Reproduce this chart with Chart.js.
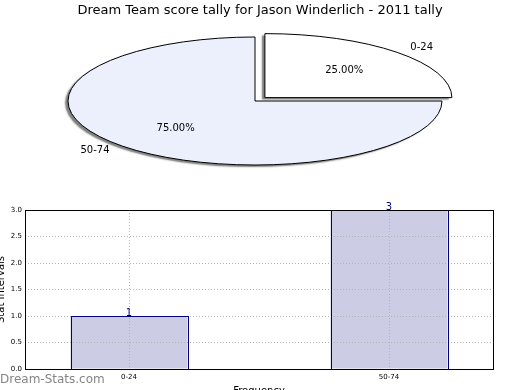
<!DOCTYPE html>
<html>
<head>
<meta charset="utf-8">
<script src="https://cdn.jsdelivr.net/npm/chart.js@4.4.0/dist/chart.umd.min.js"></script>
<style>
    html, body { margin: 0; padding: 0; background: #fff; overflow: hidden; width: 520px; height: 390px; }
    #pie { position: absolute; left: 0; top: 0; }
    #bar { position: absolute; left: -6px; top: 195px; }
    #mark { position: absolute; left: 0; top: 372px; font: 12px "DejaVu Sans"; color: #858585; }
</style>
</head>
<body>
<canvas id="pie" width="520" height="200"></canvas>
<canvas id="bar" width="526" height="215"></canvas>
<div id="mark">Dream-Stats.com</div>
<script>
const chartTitle = 'Dream Team score tally for Jason Winderlich - 2011 tally';
const categories = ['0-24', '50-74'];
const counts = [1, 3];
const percentLabels = ['25.00%', '75.00%'];
const yTicks = [0, 0.5, 1, 1.5, 2, 2.5, 3];

Chart.defaults.font.family = 'DejaVu Sans';
Chart.defaults.color = '#000';

// pie is drawn as a circle and squashed into an ellipse
const squash = 64 / 187;

function squashAround(ctx, y) {
    ctx.translate(0, y);
    ctx.scale(1, squash);
    ctx.translate(0, -y);
}

function sliceGeom(arc) {
    const off = (arc.options.offset || 0) / 4;
    const mid = (arc.startAngle + arc.endAngle) / 2;
    const fix = 1 - Math.sin(Math.min(Math.PI, arc.endAngle - arc.startAngle));
    return {
        cx: arc.x + Math.cos(mid) * off,
        cy: arc.y + Math.sin(mid) * off,
        r: arc.outerRadius + off * fix,
        mid: mid
    };
}

const ellipsePlugin = {
    id: 'ellipse',
    beforeDatasetsDraw(chart) {
        const arc = chart.getDatasetMeta(0).data[0];
        const ctx = chart.ctx;
        ctx.save();
        squashAround(ctx, arc.y);
        ctx.shadowColor = 'rgba(0,0,0,0.5)';
        ctx.shadowOffsetX = -3;
        ctx.shadowOffsetY = 2;
        ctx.shadowBlur = 1.5;
    },
    afterDatasetsDraw(chart) {
        const ctx = chart.ctx;
        ctx.restore();
        const meta = chart.getDatasetMeta(0);
        meta.data.forEach((arc, i) => {
            const g = sliceGeom(arc);
            // outline, stroked without the squash so the line stays 1px
            ctx.save();
            squashAround(ctx, arc.y);
            ctx.beginPath();
            ctx.moveTo(g.cx, g.cy);
            ctx.arc(g.cx, g.cy, g.r, arc.startAngle, arc.endAngle);
            ctx.closePath();
            ctx.restore();
            ctx.strokeStyle = '#000';
            ctx.lineWidth = 1;
            ctx.stroke();

            // labels
            const cos = Math.cos(g.mid), sin = Math.sin(g.mid);
            const at = k => [g.cx + cos * g.r * k, arc.y + (g.cy + sin * g.r * k - arc.y) * squash];
            ctx.save();
            ctx.fillStyle = '#000';
            ctx.font = '10px "DejaVu Sans"';
            ctx.textBaseline = 'middle';
            let p = at(1.1);
            ctx.textAlign = cos >= 0 ? 'left' : 'right';
            ctx.fillText(categories[i], p[0], p[1]);
            p = at(0.6);
            ctx.textAlign = 'center';
            ctx.fillText(percentLabels[i], p[0], p[1]);
            ctx.restore();
        });
    },
    afterDraw(chart) {
        // title centred on the whole canvas, not on the padded pie area
        const ctx = chart.ctx;
        ctx.save();
        ctx.fillStyle = '#000';
        ctx.font = '13px "DejaVu Sans"';
        ctx.textAlign = 'center';
        ctx.textBaseline = 'middle';
        ctx.fillText(chartTitle, chart.width / 2, 10.8);
        ctx.restore();
    }
};

new Chart(document.getElementById('pie'), {
    type: 'pie',
    data: {
        labels: categories,
        datasets: [{
            data: counts,
            backgroundColor: ['#ffffff', '#ebf0fc'],
            borderWidth: 0,
            offset: [56, 0],
            clip: false
        }]
    },
    options: {
        responsive: false,
        animation: false,
        events: [],
        radius: 187,
        layout: { padding: { top: 22.6, right: 10, bottom: 20.6 } },
        plugins: {
            legend: { display: false },
            tooltip: { enabled: false }
        }
    },
    plugins: [ellipsePlugin]
});

const barExtras = {
    id: 'barExtras',
    afterDraw(chart) {
        const ctx = chart.ctx;
        const a = chart.chartArea;
        ctx.save();
        ctx.lineWidth = 1;
        // bar outlines above the dotted grid
        ctx.strokeStyle = '#000080';
        chart.getDatasetMeta(0).data.forEach(bar => {
            const l = Math.round(bar.x - bar.width / 2) + 0.5;
            const r = Math.round(bar.x + bar.width / 2) + 0.5;
            const t = Math.round(bar.y) + 0.5;
            const b = Math.round(bar.base) + 0.5;
            ctx.strokeRect(l, t, r - l, b - t);
        });
        ctx.strokeStyle = '#000';
        ctx.strokeRect(Math.round(a.left) + 0.5, Math.round(a.top) + 0.5,
            Math.round(a.right - a.left), Math.round(a.bottom - a.top));
        ctx.fillStyle = '#000080';
        ctx.font = '10px "DejaVu Sans"';
        ctx.textAlign = 'center';
        ctx.textBaseline = 'alphabetic';
        chart.getDatasetMeta(0).data.forEach((bar, i) => {
            ctx.fillText(String(counts[i]), bar.x, bar.y);
        });
        ctx.restore();
    }
};

new Chart(document.getElementById('bar'), {
    type: 'bar',
    data: {
        datasets: [{
            data: categories.map((c, i) => ({ x: i, y: counts[i] })),
            backgroundColor: '#cccce5',
            borderWidth: 0,
            barPercentage: 0.45,
            categoryPercentage: 1
        }]
    },
    options: {
        responsive: false,
        animation: false,
        events: [],
        layout: { padding: { top: 15, right: 27, left: 0, bottom: 0 } },
        plugins: {
            legend: { display: false },
            tooltip: { enabled: false }
        },
        scales: {
            x: {
                type: 'linear',
                min: -0.4,
                max: 1.4,
                offset: false,
                afterBuildTicks: s => { s.ticks = categories.map((c, i) => ({ value: i })); },
                afterFit: s => { s.height = 41; },
                ticks: {
                    callback: v => categories[v],
                    font: { size: 7 },
                    color: '#000',
                    padding: 4,
                    autoSkip: false,
                    maxRotation: 0
                },
                grid: { color: '#b4b4b4', lineWidth: 1, z: 1, drawTicks: false, offset: false },
                border: { display: false, dash: [1, 2] },
                title: {
                    display: true,
                    text: 'Frequency',
                    font: { size: 10 },
                    color: '#000',
                    padding: { top: 0, bottom: 13 }
                }
            },
            y: {
                min: 0,
                max: 3,
                afterBuildTicks: s => { s.ticks = yTicks.map(v => ({ value: v })); },
                afterFit: s => { s.width = 31; },
                ticks: {
                    callback: v => v.toFixed(1),
                    font: { size: 7 },
                    color: '#000',
                    padding: 3
                },
                grid: { color: '#b4b4b4', lineWidth: 1, z: 1, drawTicks: false },
                border: { display: false, dash: [1, 2] },
                title: {
                    display: true,
                    text: 'Stat Intervals',
                    font: { size: 10 },
                    color: '#000',
                    padding: { top: 1, bottom: 0 }
                }
            }
        }
    },
    plugins: [barExtras]
});
</script>
</body>
</html>
